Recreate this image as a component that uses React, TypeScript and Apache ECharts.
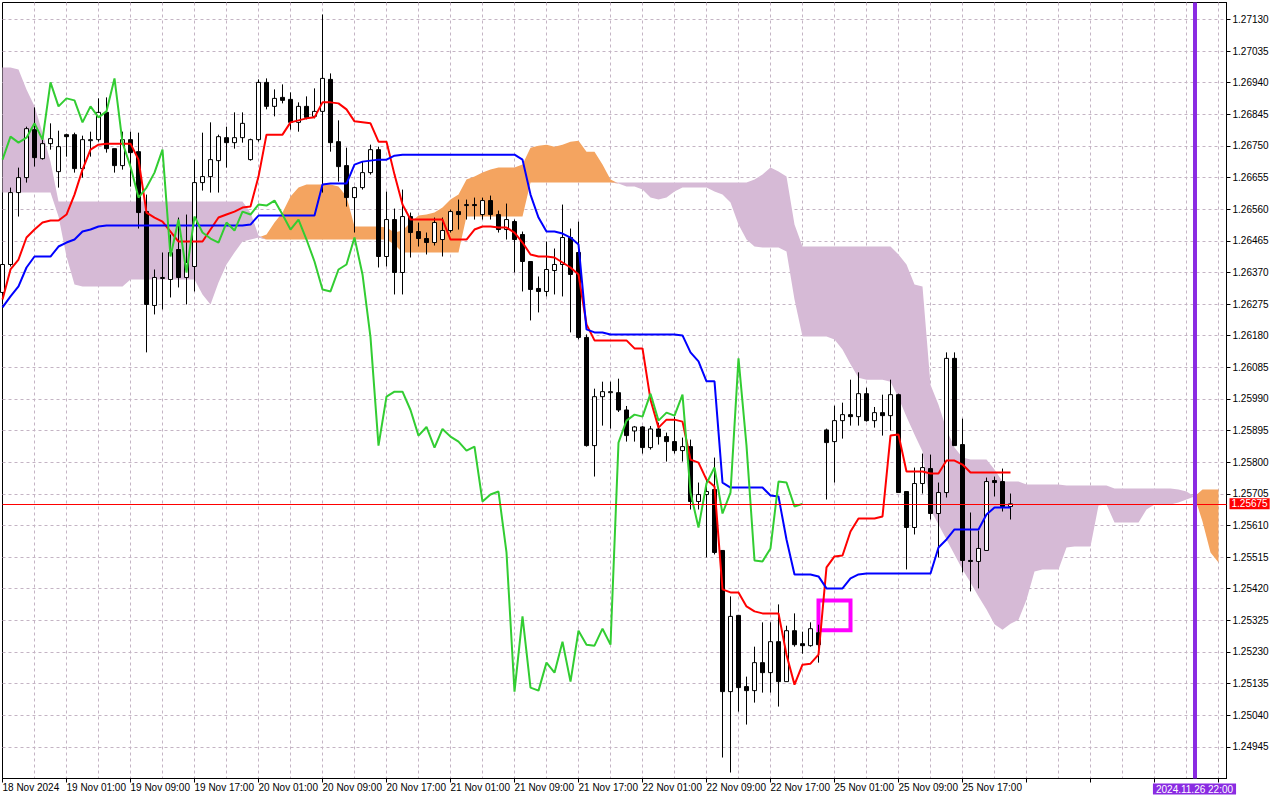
import React, { useRef, useEffect } from 'react'
import * as echarts from 'echarts'

// EURUSD-like H1 chart, 18 Nov 2024 17:00 .. 25 Nov 2024 23:00, Ichimoku (9, 26, 52)
// bar index 0 = 18 Nov 17:00, one label every 8 bars
const tickLabels = [
  '18 Nov 2024', '19 Nov 01:00', '19 Nov 09:00', '19 Nov 17:00',
  '20 Nov 01:00', '20 Nov 09:00', '20 Nov 17:00', '21 Nov 01:00',
  '21 Nov 09:00', '21 Nov 17:00', '22 Nov 01:00', '22 Nov 09:00',
  '22 Nov 17:00', '25 Nov 01:00', '25 Nov 09:00', '25 Nov 17:00',
]

const opens = [
  1.26310, 1.26394, 1.26610, 1.26655, 1.26799, 1.26712, 1.26757, 1.26673, 1.26784, 1.26784,
  1.26682, 1.26766, 1.26769, 1.26851, 1.26742, 1.26691, 1.26769, 1.26733, 1.26553, 1.26271,
  1.26352, 1.26349, 1.26439, 1.26355, 1.26388, 1.26640, 1.26658, 1.26706, 1.26775, 1.26760,
  1.26775, 1.26709, 1.26769, 1.26941, 1.26869, 1.26896, 1.26890, 1.26821, 1.26869, 1.26839,
  1.26854, 1.26950, 1.26763, 1.26691, 1.26595, 1.26625, 1.26670, 1.26739, 1.26418, 1.26529,
  1.26370, 1.26538, 1.26493, 1.26472, 1.26460, 1.26469, 1.26496, 1.26553, 1.26571, 1.26574,
  1.26544, 1.26586, 1.26544, 1.26499, 1.26523, 1.26484, 1.26403, 1.26322, 1.26313, 1.26376,
  1.26394, 1.26475, 1.26430, 1.26175, 1.25850, 1.25997, 1.26009, 1.26009, 1.25957, 1.25894,
  1.25906, 1.25844, 1.25900, 1.25877, 1.25862, 1.25835, 1.25847, 1.25682, 1.25703, 1.25718,
  1.25535, 1.25111, 1.25340, 1.25126, 1.25114, 1.25198, 1.25168, 1.25261, 1.25141, 1.25294,
  1.25255, 1.25249, 1.25288, 1.25897, 1.25862, 1.25925, 1.25943, 1.25937, 1.26006, 1.25925,
  1.25949, 1.25940, 1.26003, 1.25712, 1.25604, 1.25736, 1.25781, 1.25646, 1.25709, 1.26112,
  1.25853, 1.25505, 1.25502, 1.25535, 1.25745, 1.25742, 1.25667,
]

const highs = [
  1.26415, 1.26625, 1.26685, 1.26808, 1.26866, 1.26769, 1.26818, 1.26796, 1.26787, 1.26790,
  1.26781, 1.26793, 1.26893, 1.26896, 1.26742, 1.26793, 1.26793, 1.26790, 1.26604, 1.26379,
  1.26430, 1.26484, 1.26535, 1.26544, 1.26709, 1.26790, 1.26821, 1.26784, 1.26808, 1.26851,
  1.26851, 1.26772, 1.26950, 1.26953, 1.26920, 1.26935, 1.26911, 1.26881, 1.26899, 1.26923,
  1.27145, 1.26968, 1.26827, 1.26745, 1.26628, 1.26703, 1.26754, 1.26748, 1.26613, 1.26562,
  1.26619, 1.26550, 1.26520, 1.26490, 1.26535, 1.26535, 1.26559, 1.26589, 1.26589, 1.26595,
  1.26595, 1.26601, 1.26556, 1.26577, 1.26529, 1.26493, 1.26403, 1.26358, 1.26463, 1.26442,
  1.26574, 1.26502, 1.26523, 1.26184, 1.26021, 1.26042, 1.26042, 1.26051, 1.25969, 1.25909,
  1.25909, 1.25909, 1.25919, 1.25889, 1.25937, 1.25874, 1.25868, 1.25739, 1.25748, 1.25814,
  1.25535, 1.25397, 1.25340, 1.25156, 1.25246, 1.25319, 1.25319, 1.25373, 1.25309, 1.25346,
  1.25291, 1.25319, 1.25312, 1.25901, 1.25970, 1.25979, 1.26048, 1.26070, 1.26024, 1.25966,
  1.26003, 1.26048, 1.26006, 1.25712, 1.25784, 1.25826, 1.25823, 1.25739, 1.26130, 1.26130,
  1.25931, 1.25649, 1.25595, 1.25754, 1.25757, 1.25781, 1.25706,
]

const lows = [
  1.26301, 1.26388, 1.26538, 1.26640, 1.26688, 1.26709, 1.26739, 1.26625, 1.26718, 1.26670,
  1.26655, 1.26718, 1.26763, 1.26730, 1.26670, 1.26679, 1.26628, 1.26502, 1.26130, 1.26244,
  1.26259, 1.26295, 1.26325, 1.26274, 1.26313, 1.26616, 1.26610, 1.26610, 1.26685, 1.26742,
  1.26760, 1.26706, 1.26763, 1.26860, 1.26839, 1.26878, 1.26799, 1.26793, 1.26830, 1.26833,
  1.26610, 1.26733, 1.26643, 1.26568, 1.26490, 1.26619, 1.26664, 1.26385, 1.26388, 1.26304,
  1.26304, 1.26415, 1.26448, 1.26424, 1.26451, 1.26418, 1.26490, 1.26499, 1.26529, 1.26529,
  1.26529, 1.26529, 1.26490, 1.26469, 1.26370, 1.26313, 1.26226, 1.26250, 1.26298, 1.26304,
  1.26298, 1.26190, 1.26169, 1.25847, 1.25757, 1.25910, 1.25901, 1.25951, 1.25862, 1.25862,
  1.25826, 1.25838, 1.25853, 1.25802, 1.25826, 1.25802, 1.25658, 1.25658, 1.25514, 1.25523,
  1.24913, 1.24868, 1.25051, 1.25012, 1.25078, 1.25108, 1.25108, 1.25066, 1.25141, 1.25246,
  1.25225, 1.25246, 1.25198, 1.25688, 1.25739, 1.25871, 1.25910, 1.25910, 1.25922, 1.25904,
  1.25880, 1.25895, 1.25709, 1.25478, 1.25583, 1.25706, 1.25628, 1.25514, 1.25694, 1.25850,
  1.25469, 1.25412, 1.25421, 1.25535, 1.25697, 1.25652, 1.25628,
]

const closes = [
  1.26394, 1.26610, 1.26655, 1.26802, 1.26715, 1.26757, 1.26772, 1.26748, 1.26778, 1.26682,
  1.26769, 1.26769, 1.26851, 1.26742, 1.26691, 1.26769, 1.26730, 1.26550, 1.26274, 1.26355,
  1.26355, 1.26430, 1.26355, 1.26400, 1.26640, 1.26658, 1.26709, 1.26778, 1.26760, 1.26775,
  1.26818, 1.26769, 1.26941, 1.26869, 1.26893, 1.26887, 1.26821, 1.26869, 1.26836, 1.26854,
  1.26953, 1.26760, 1.26688, 1.26595, 1.26625, 1.26670, 1.26739, 1.26418, 1.26529, 1.26370,
  1.26538, 1.26490, 1.26472, 1.26460, 1.26520, 1.26496, 1.26553, 1.26544, 1.26574, 1.26571,
  1.26586, 1.26544, 1.26499, 1.26529, 1.26469, 1.26403, 1.26319, 1.26313, 1.26379, 1.26394,
  1.26475, 1.26364, 1.26175, 1.25850, 1.25997, 1.26012, 1.26012, 1.25957, 1.25880, 1.25906,
  1.25844, 1.25900, 1.25877, 1.25862, 1.25835, 1.25847, 1.25682, 1.25703, 1.25712, 1.25529,
  1.25111, 1.25337, 1.25123, 1.25114, 1.25198, 1.25168, 1.25261, 1.25141, 1.25294, 1.25252,
  1.25249, 1.25300, 1.25252, 1.25859, 1.25925, 1.25943, 1.25937, 1.26006, 1.25925, 1.25949,
  1.25940, 1.26003, 1.25709, 1.25604, 1.25736, 1.25784, 1.25646, 1.25709, 1.26112, 1.25850,
  1.25505, 1.25502, 1.25541, 1.25742, 1.25739, 1.25667, 1.25675,
]

// Tenkan-sen (red)
const tenkan = [
  1.26289, 1.26379, 1.26409, 1.26475, 1.26499, 1.26520, 1.26526, 1.26526, 1.26544, 1.26604,
  1.26679, 1.26739, 1.26754, 1.26757, 1.26757, 1.26757, 1.26757, 1.26709, 1.26550, 1.26535,
  1.26523, 1.26493, 1.26463, 1.26463, 1.26463, 1.26463, 1.26499, 1.26535, 1.26544, 1.26553,
  1.26565, 1.26568, 1.26658, 1.26784, 1.26784, 1.26784, 1.26821, 1.26827, 1.26833, 1.26836,
  1.26881, 1.26881, 1.26878, 1.26860, 1.26824, 1.26821, 1.26818, 1.26763, 1.26763, 1.26664,
  1.26574, 1.26529, 1.26529, 1.26529, 1.26529, 1.26529, 1.26469, 1.26469, 1.26469, 1.26499,
  1.26508, 1.26508, 1.26505, 1.26505, 1.26490, 1.26460, 1.26424, 1.26418, 1.26418, 1.26415,
  1.26400, 1.26385, 1.26364, 1.26214, 1.26166, 1.26166, 1.26166, 1.26166, 1.26166, 1.26142,
  1.26142, 1.25988, 1.25904, 1.25928, 1.25928, 1.25922, 1.25808, 1.25799, 1.25748, 1.25727,
  1.25418, 1.25409, 1.25409, 1.25367, 1.25352, 1.25346, 1.25346, 1.25346, 1.25222, 1.25132,
  1.25192, 1.25195, 1.25222, 1.25484, 1.25517, 1.25520, 1.25592, 1.25631, 1.25631, 1.25631,
  1.25637, 1.25880, 1.25883, 1.25772, 1.25772, 1.25772, 1.25766, 1.25766, 1.25805, 1.25805,
  1.25793, 1.25769, 1.25769, 1.25769, 1.25769, 1.25769, 1.25769,
]

// Kijun-sen (blue)
const kijun = [
  1.26265, 1.26298, 1.26328, 1.26385, 1.26418, 1.26418, 1.26418, 1.26448, 1.26460, 1.26469,
  1.26493, 1.26499, 1.26508, 1.26511, 1.26511, 1.26511, 1.26511, 1.26511, 1.26511, 1.26511,
  1.26511, 1.26511, 1.26511, 1.26511, 1.26511, 1.26511, 1.26511, 1.26511, 1.26511, 1.26511,
  1.26511, 1.26514, 1.26541, 1.26541, 1.26541, 1.26541, 1.26541, 1.26541, 1.26541, 1.26541,
  1.26634, 1.26637, 1.26637, 1.26637, 1.26694, 1.26703, 1.26706, 1.26709, 1.26709, 1.26721,
  1.26724, 1.26724, 1.26724, 1.26724, 1.26724, 1.26724, 1.26724, 1.26724, 1.26724, 1.26724,
  1.26724, 1.26724, 1.26724, 1.26724, 1.26724, 1.26709, 1.26604, 1.26535, 1.26493, 1.26493,
  1.26487, 1.26475, 1.26454, 1.26199, 1.26190, 1.26190, 1.26184, 1.26184, 1.26184, 1.26184,
  1.26184, 1.26184, 1.26184, 1.26184, 1.26184, 1.26181, 1.26130, 1.26103, 1.26043, 1.26043,
  1.25739, 1.25724, 1.25724, 1.25724, 1.25724, 1.25724, 1.25700, 1.25697, 1.25568, 1.25463,
  1.25463, 1.25463, 1.25457, 1.25421, 1.25421, 1.25421, 1.25451, 1.25463, 1.25466, 1.25466,
  1.25466, 1.25466, 1.25466, 1.25466, 1.25466, 1.25466, 1.25466, 1.25544, 1.25568, 1.25598,
  1.25598, 1.25598, 1.25598, 1.25643, 1.25664, 1.25664, 1.25664,
]

// Senkou Span A / B, already shifted 26 bars forward (153 bars)
const spanA = [
  1.26610, 1.26610, 1.26610, 1.26610, 1.26610, 1.26610, 1.26610, 1.26538, 1.26418, 1.26334,
  1.26328, 1.26328, 1.26328, 1.26328, 1.26328, 1.26328, 1.26349, 1.26349, 1.26349, 1.26349,
  1.26349, 1.26349, 1.26349, 1.26349, 1.26349, 1.26304, 1.26274, 1.26340, 1.26394, 1.26430,
  1.26463, 1.26469, 1.26475, 1.26484, 1.26520, 1.26550, 1.26598, 1.26625, 1.26634, 1.26634,
  1.26634, 1.26634, 1.26628, 1.26598, 1.26508, 1.26508, 1.26508, 1.26508, 1.26505, 1.26490,
  1.26496, 1.26520, 1.26541, 1.26544, 1.26550, 1.26565, 1.26589, 1.26604, 1.26649, 1.26658,
  1.26670, 1.26679, 1.26685, 1.26685, 1.26685, 1.26694, 1.26745, 1.26751, 1.26754, 1.26748,
  1.26754, 1.26763, 1.26766, 1.26733, 1.26733, 1.26694, 1.26649, 1.26637, 1.26628, 1.26628,
  1.26619, 1.26595, 1.26589, 1.26595, 1.26613, 1.26625, 1.26625, 1.26625, 1.26625, 1.26613,
  1.26604, 1.26580, 1.26514, 1.26469, 1.26448, 1.26445, 1.26445, 1.26445, 1.26433, 1.26289,
  1.26178, 1.26178, 1.26178, 1.26178, 1.26169, 1.26139, 1.26094, 1.26054, 1.26048, 1.26048,
  1.26048, 1.26042, 1.25994, 1.25937, 1.25883, 1.25832, 1.25658, 1.25613, 1.25568, 1.25523,
  1.25478, 1.25439, 1.25397, 1.25358, 1.25313, 1.25297, 1.25315, 1.25327, 1.25387, 1.25472,
  1.25478, 1.25478, 1.25478, 1.25544, 1.25547, 1.25547, 1.25547, 1.25670, 1.25673, 1.25619,
  1.25619, 1.25619, 1.25619, 1.25658, 1.25673, 1.25673, 1.25673, 1.25679, 1.25688, 1.25697,
  1.25718, 1.25718, 1.25718,
]

const spanB = [
  1.26986, 1.26986, 1.26980, 1.26920, 1.26869, 1.26790, 1.26703, 1.26583, 1.26583, 1.26583,
  1.26583, 1.26583, 1.26583, 1.26583, 1.26583, 1.26583, 1.26583, 1.26583, 1.26583, 1.26583,
  1.26583, 1.26583, 1.26583, 1.26583, 1.26583, 1.26583, 1.26583, 1.26583, 1.26583, 1.26583,
  1.26583, 1.26550, 1.26481, 1.26469, 1.26469, 1.26469, 1.26469, 1.26469, 1.26469, 1.26469,
  1.26469, 1.26469, 1.26469, 1.26469, 1.26469, 1.26469, 1.26469, 1.26469, 1.26469, 1.26454,
  1.26430, 1.26430, 1.26430, 1.26430, 1.26430, 1.26430, 1.26430, 1.26430, 1.26538, 1.26538,
  1.26538, 1.26538, 1.26538, 1.26538, 1.26538, 1.26538, 1.26640, 1.26640, 1.26640, 1.26640,
  1.26640, 1.26640, 1.26640, 1.26640, 1.26640, 1.26640, 1.26640, 1.26640, 1.26640, 1.26640,
  1.26640, 1.26640, 1.26640, 1.26640, 1.26640, 1.26640, 1.26640, 1.26640, 1.26640, 1.26640,
  1.26640, 1.26640, 1.26640, 1.26640, 1.26649, 1.26664, 1.26685, 1.26673, 1.26658, 1.26514,
  1.26448, 1.26448, 1.26448, 1.26448, 1.26448, 1.26448, 1.26448, 1.26448, 1.26448, 1.26448,
  1.26448, 1.26448, 1.26424, 1.26394, 1.26334, 1.26328, 1.26033, 1.25973, 1.25898, 1.25844,
  1.25814, 1.25808, 1.25808, 1.25808, 1.25778, 1.25742, 1.25742, 1.25742, 1.25733, 1.25733,
  1.25733, 1.25733, 1.25733, 1.25730, 1.25730, 1.25730, 1.25730, 1.25730, 1.25730, 1.25721,
  1.25721, 1.25721, 1.25721, 1.25721, 1.25721, 1.25721, 1.25721, 1.25718, 1.25712, 1.25697,
  1.25622, 1.25529, 1.25499,
]

const lastPrice = 1.25675
const markerTime = '2024.11.26 22:00'
const markerBar = 149
// hand drawn rectangle on 22/25 Nov
const boxBars = [102, 106]
const boxPrices = [1.25385, 1.25295]

const yMin = 1.2485
const yMax = 1.27181
const yStep = 0.00095
const barSlots = 154
const chikouShift = 26

const font = 'Liberation Sans'
const gridColor = '#c4b4c4'

function IchimokuChart() {
  const chartRef = useRef<HTMLDivElement>(null)

  useEffect(() => {
    const chart = echarts.init(chartRef.current, null, { renderer: 'svg' })

    const categories = Array.from({ length: barSlots }, (_, i) => String(i))
    const candles = opens.map((o, i) => [o, closes[i], lows[i], highs[i]])
    const cloudBase = spanA.map((a, i) => Math.min(a, spanB[i]))
    const bullCloud = spanA.map((a, i) => (a > spanB[i] ? a - spanB[i] : 0))
    const bearCloud = spanA.map((a, i) => (spanB[i] > a ? spanB[i] - a : 0))
    const chikou = closes.slice(chikouShift)

    const hidden = { opacity: 0, width: 0 }

    const option = {
      animation: false,
      backgroundColor: '#ffffff',
      grid: {
        left: 2.5,
        right: 53.5,
        top: 2.5,
        bottom: 21.5,
        show: true,
        borderColor: '#000000',
        borderWidth: 1,
        outerBoundsMode: 'none',
      },
      xAxis: {
        type: 'category',
        data: categories,
        boundaryGap: false,
        axisLine: { lineStyle: { color: '#000000', width: 1 } },
        axisTick: {
          interval: (i: number) => i % 8 === 0,
          length: 4,
          lineStyle: { color: '#000000' },
        },
        axisLabel: {
          interval: (i: number) => i % 8 === 0 && i / 8 < tickLabels.length,
          formatter: (_v: string, i: number) => tickLabels[i / 8] ?? '',
          align: 'left',
          margin: 4,
          color: '#000000',
          fontSize: 10,
          fontFamily: font,
        },
        splitLine: {
          show: true,
          interval: (i: number) => i % 4 === 0 && i > 0,
          lineStyle: { color: gridColor, type: [3, 3], width: 1 },
        },
      },
      yAxis: {
        type: 'value',
        position: 'right',
        min: yMin,
        max: yMax,
        interval: yStep,
        axisLine: { show: true, lineStyle: { color: '#000000' } },
        axisTick: { show: true, length: 4, lineStyle: { color: '#000000' } },
        axisLabel: {
          showMinLabel: false,
          showMaxLabel: false,
          formatter: (v: number) => v.toFixed(5),
          margin: 6,
          color: '#000000',
          fontSize: 10,
          fontFamily: font,
        },
        splitLine: {
          show: true,
          showMinLine: false,
          showMaxLine: false,
          lineStyle: { color: gridColor, type: [3, 3], width: 1 },
        },
      },
      series: [
        {
          type: 'line', stack: 'bull', data: cloudBase, symbol: 'none', silent: true,
          lineStyle: hidden, z: 1,
        },
        {
          type: 'line', stack: 'bull', data: bullCloud, symbol: 'none', silent: true,
          lineStyle: hidden, areaStyle: { color: '#f4a460', opacity: 1 }, z: 1,
        },
        {
          type: 'line', stack: 'bear', data: cloudBase, symbol: 'none', silent: true,
          lineStyle: hidden, z: 1,
        },
        {
          type: 'line', stack: 'bear', data: bearCloud, symbol: 'none', silent: true,
          lineStyle: hidden, areaStyle: { color: '#d6bad6', opacity: 1 }, z: 1,
        },
        {
          type: 'candlestick',
          data: candles,
          barWidth: 5,
          z: 3,
          itemStyle: {
            color: '#ffffff',
            color0: '#000000',
            borderColor: '#000000',
            borderColor0: '#000000',
            borderWidth: 1,
          },
        },
        {
          type: 'line', data: tenkan, symbol: 'none', z: 4,
          lineStyle: { color: '#ff0000', width: 2 },
        },
        {
          type: 'line', data: kijun, symbol: 'none', z: 4,
          lineStyle: { color: '#0000ff', width: 2 },
          markLine: {
            silent: true,
            precision: 5,
            symbol: ['none', 'none'],
            animation: false,
            data: [
              {
                yAxis: lastPrice,
                lineStyle: { color: '#ff0000', width: 1, type: 'solid' },
                label: {
                  show: true,
                  position: 'end',
                  distance: 3,
                  formatter: lastPrice.toFixed(5),
                  backgroundColor: '#ff0000',
                  color: '#ffffff',
                  padding: [1, 2, 0, 2],
                  fontSize: 10,
                  fontFamily: font,
                },
              },
              {
                xAxis: markerBar,
                lineStyle: { color: '#8a2be2', width: 4, type: 'solid' },
                label: {
                  show: true,
                  position: 'start',
                  distance: 5,
                  formatter: markerTime,
                  backgroundColor: '#8a2be2',
                  color: '#ffffff',
                  padding: [1, 3, 0, 3],
                  fontSize: 10,
                  fontFamily: font,
                },
              },
            ],
          },
          markArea: {
            silent: true,
            label: { show: false },
            itemStyle: {
              color: 'rgba(0,0,0,0)',
              borderColor: '#ff00ff',
              borderWidth: 4,
            },
            data: [[
              { xAxis: boxBars[0], yAxis: boxPrices[0] },
              { xAxis: boxBars[1], yAxis: boxPrices[1] },
            ]],
          },
        },
        {
          type: 'line', data: chikou, symbol: 'none', z: 4,
          lineStyle: { color: '#32cd32', width: 2 },
        },
      ],
    }

    chart.setOption(option)

    return () => {
      chart.dispose()
    }
  }, [])

  return (
    <div
      ref={chartRef}
      style={{ position: 'fixed', left: 0, top: 0, width: 1280, height: 800, background: '#fff' }}
    ></div>
  )
}

export default function App() {
  return <IchimokuChart />
}
